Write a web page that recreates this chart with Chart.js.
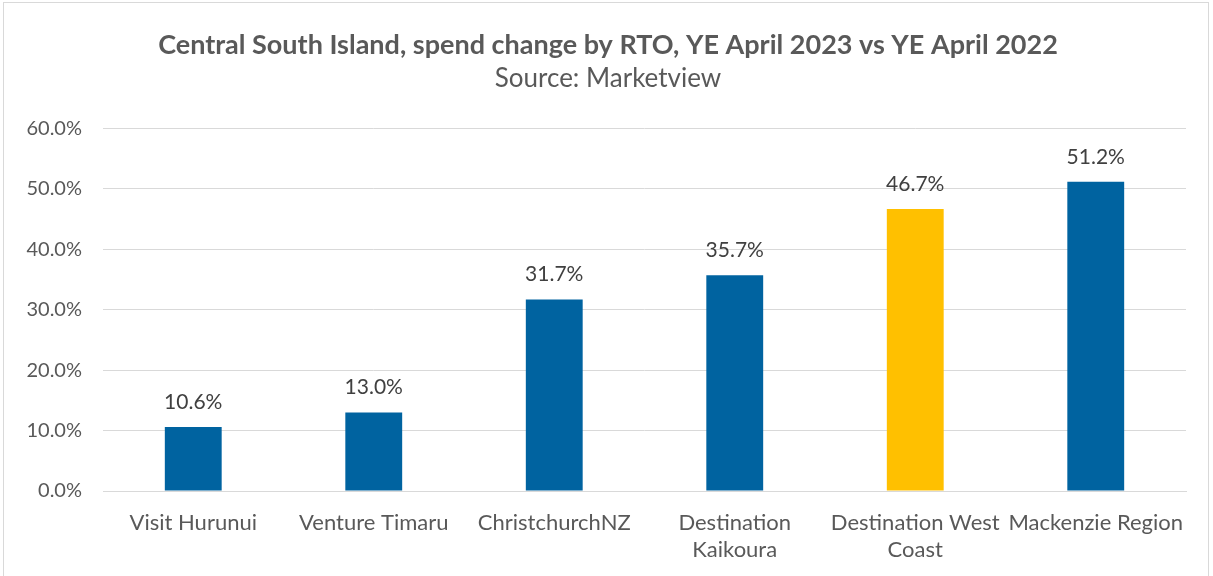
<!DOCTYPE html>
<html lang="en">
<head>
    <meta charset="UTF-8">
    <title>Central South Island spend change</title>
    <script src="https://cdn.jsdelivr.net/npm/chart.js"></script>
    <style>
        body {
            margin: 0;
            background: #fff;
        }
        .frame {
            position: absolute;
            left: 3px;
            top: 2px;
            width: 1206px;
            height: 580px;
            border: 1px solid #d9d9d9;
            box-sizing: border-box;
        }
        .chart-box {
            position: absolute;
            left: 0;
            top: 0;
            width: 1213px;
            height: 576px;
        }
    </style>
</head>
<body>
    <div class="frame"></div>
    <div class="chart-box">
        <canvas id="spendChart" width="1213" height="576"></canvas>
    </div>

    <script>
        const categories = [
            'Visit Hurunui',
            'Venture Timaru',
            'ChristchurchNZ',
            ['Destination', 'Kaikoura'],
            ['Destination West', 'Coast'],
            'Mackenzie Region'
        ];
        const spendChange = [10.6, 13.0, 31.7, 35.7, 46.7, 51.2];
        const barColours = ['#0063a0', '#0063a0', '#0063a0', '#0063a0', '#ffc000', '#0063a0'];
        const yTicks = [0, 10, 20, 30, 40, 50, 60];

        const FONT = 'Lato, "Open Sans", sans-serif';

        // draws the value above each bar
        const valueLabels = {
            id: 'valueLabels',
            afterDatasetsDraw(chart) {
                const ctx = chart.ctx;
                const meta = chart.getDatasetMeta(0);
                ctx.save();
                ctx.font = '21px ' + FONT;
                ctx.fillStyle = '#404040';
                ctx.textAlign = 'center';
                ctx.textBaseline = 'middle';
                meta.data.forEach((bar, i) => {
                    ctx.fillText(spendChange[i].toFixed(1) + '%', bar.x, bar.y - 25);
                });
                ctx.restore();
            }
        };

        // nudge title + subtitle a little right so they sit over the page centre
        const centreTitles = {
            id: 'centreTitles',
            afterLayout(chart) {
                chart.boxes.forEach(box => {
                    if (box.options && box.options.text !== undefined && box.position === 'top') {
                        box.left += 5;
                        box.right += 5;
                    }
                });
            }
        };

        const ctx = document.getElementById('spendChart').getContext('2d');
        new Chart(ctx, {
            type: 'bar',
            data: {
                labels: categories,
                datasets: [{
                    data: spendChange,
                    backgroundColor: barColours,
                    barPercentage: 0.63,
                    categoryPercentage: 0.5
                }]
            },
            options: {
                responsive: false,
                animation: false,
                layout: {
                    padding: { left: 20, right: 27, bottom: 0 }
                },
                plugins: {
                    legend: { display: false },
                    tooltip: { enabled: false },
                    title: {
                        display: true,
                        text: 'Central South Island, spend change by RTO, YE April 2023 vs YE April 2022',
                        color: '#595959',
                        font: { family: FONT, size: 27, weight: 'bold' },
                        padding: { top: 29, bottom: 2 }
                    },
                    subtitle: {
                        display: true,
                        text: 'Source: Marketview',
                        color: '#595959',
                        font: { family: FONT, size: 26 },
                        padding: { bottom: 34 }
                    }
                },
                scales: {
                    x: {
                        grid: { display: false },
                        border: { display: true, color: '#d9d9d9', width: 1 },
                        ticks: {
                            color: '#595959',
                            font: { family: FONT, size: 22, lineHeight: '27px' },
                            padding: 10,
                            maxRotation: 0,
                            autoSkip: false
                        },
                        afterFit(scale) {
                            scale.height = 85;
                        }
                    },
                    y: {
                        min: 0,
                        max: 60,
                        afterBuildTicks(axis) {
                            axis.ticks = yTicks.map(v => ({ value: v }));
                        },
                        grid: { color: '#d9d9d9', drawTicks: false },
                        border: { display: false },
                        ticks: {
                            color: '#595959',
                            font: { family: FONT, size: 20 },
                            padding: 21,
                            callback: v => v.toFixed(1) + '%'
                        },
                        afterFit(scale) {
                            scale.width = 83;
                        }
                    }
                }
            },
            plugins: [valueLabels, centreTitles]
        });
    </script>
</body>
</html>
